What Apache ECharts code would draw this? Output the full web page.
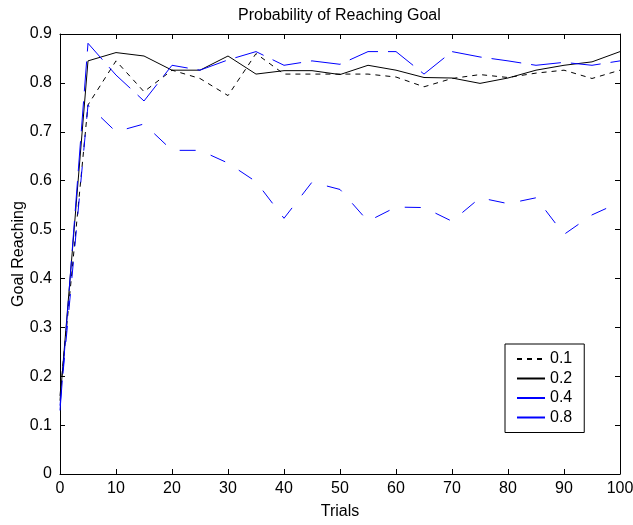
<!DOCTYPE html>
<html>
<head>
<meta charset="utf-8">
<script src="https://cdn.jsdelivr.net/npm/echarts@6/dist/echarts.min.js"></script>
<style>html,body{margin:0;padding:0;background:#fff;}#c{width:633px;height:525px;}</style>
</head>
<body>
<div id="c"></div>
<script>
var trials = [0,5,10,15,20,25,30,35,40,45,50,55,60,65,70,75,80,85,90,95,100];
var s01 = [0.16,0.755,0.845,0.782,0.826,0.809,0.774,0.86,0.818,0.818,0.818,0.818,0.812,0.792,0.809,0.817,0.811,0.82,0.826,0.809,0.826];
var s02 = [0.15,0.845,0.862,0.855,0.826,0.826,0.855,0.818,0.825,0.825,0.817,0.836,0.826,0.811,0.81,0.799,0.81,0.826,0.836,0.843,0.864];
var s04 = [0.13,0.881,0.816,0.763,0.836,0.826,0.847,0.864,0.836,0.845,0.838,0.864,0.864,0.818,0.864,0.853,0.845,0.836,0.842,0.836,0.845];
var s08 = [0.14,0.755,0.70,0.716,0.662,0.662,0.636,0.598,0.523,0.597,0.582,0.517,0.546,0.545,0.517,0.565,0.553,0.565,0.49,0.53,0.556];
var seriesNames = ['0.1','0.2','0.4','0.8'];
var xTicks = [0,10,20,30,40,50,60,70,80,90,100];
var yTicks = [0,0.1,0.2,0.3,0.4,0.5,0.6,0.7,0.8,0.9];

function pairs(v){ return trials.map(function(t,i){ return [t, v[i]]; }); }
var font = 'Liberation Sans, Arial, sans-serif';
var chart = echarts.init(document.getElementById('c'), null, {renderer:'canvas'});
function axisCommon(){
  return {
    axisLine:{show:true, onZero:false, lineStyle:{color:'#000', width:1}},
    axisTick:{show:true, inside:true, length:5, lineStyle:{color:'#000'}},
    splitLine:{show:false}
  };
}
function mkSeries(name, data, color, type){
  return {name:name, type:'line', data:pairs(data), symbol:'none', showSymbol:false,
    lineStyle:{color:color, width:1, type:type}, itemStyle:{color:color}, animation:false, z:2};
}
chart.setOption({
  animation:false,
  backgroundColor:'#fff',
  title:{text:'Probability of Reaching Goal', left:233, top:3,
    textStyle:{fontFamily:font, fontSize:16, fontWeight:'normal', color:'#000'}},
  grid:{left:60, right:13, top:34, bottom:51, containLabel:false, outerBoundsMode:'none'},
  legend:{
    orient:'vertical', left:505, top:344, itemWidth:28, itemHeight:14, itemGap:3.5,
    padding:[7,12,7,11],
    borderColor:'#000', borderWidth:1, backgroundColor:'#fff',
    itemStyle:{opacity:0, borderWidth:0},
    textStyle:{fontFamily:font, fontSize:16, color:'#000'},
    data:[
      {name:'0.1'},
      {name:'0.2'},
      {name:'0.4', lineStyle:{type:'solid'}},
      {name:'0.8', lineStyle:{type:'solid'}}
    ]
  },
  xAxis:[
    Object.assign({type:'value', min:0, max:100, interval:10, position:'bottom',
      name:'Trials', nameLocation:'middle', nameGap:30,
      nameTextStyle:{fontFamily:font, fontSize:16, color:'#000'},
      axisLabel:{fontFamily:font, fontSize:16, color:'#000', margin:7}}, axisCommon()),
    Object.assign({type:'value', min:0, max:100, interval:10, position:'top',
      axisLabel:{show:false}}, axisCommon())
  ],
  yAxis:[
    Object.assign({type:'value', min:0, max:0.9, interval:0.1, position:'left',
      name:'Goal Reaching', nameLocation:'middle', nameGap:33, nameMoveOverlap:false,
      nameTextStyle:{fontFamily:font, fontSize:16, color:'#000'},
      axisLabel:{fontFamily:font, fontSize:16, color:'#000', margin:8,
        formatter:function(v){ return String(Math.round(v*10)/10); }}}, axisCommon()),
    Object.assign({type:'value', min:0, max:0.9, interval:0.1, position:'right',
      axisLabel:{show:false}}, axisCommon())
  ],
  series:[
    mkSeries(seriesNames[0], s01, '#000', [5,5]),
    mkSeries(seriesNames[1], s02, '#000', 'solid'),
    mkSeries(seriesNames[2], s04, '#0000ff', [30,10]),
    mkSeries(seriesNames[3], s08, '#0000ff', [16,16])
  ]
});
</script>
</body>
</html>
